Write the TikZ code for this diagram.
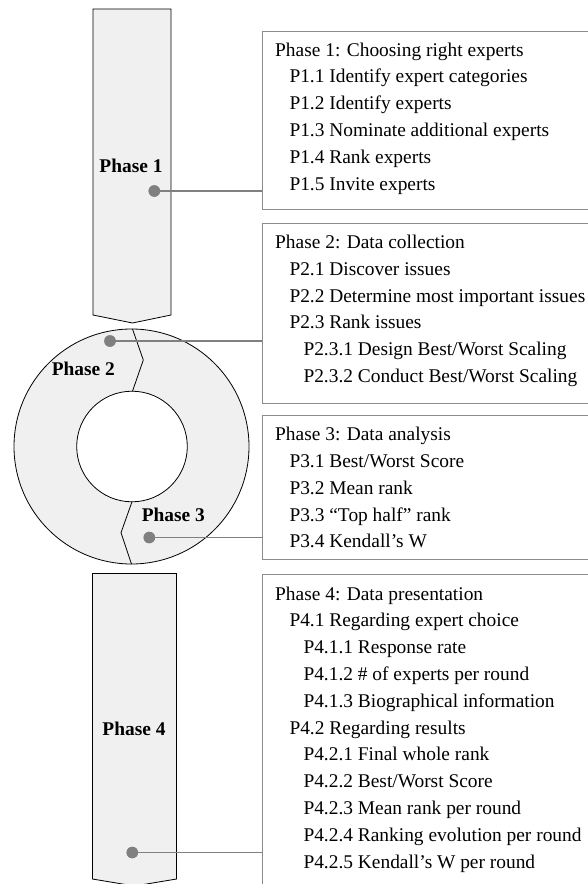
\documentclass[tikz,border=0pt]{standalone}
\usepackage{fontspec}
\setmainfont{Liberation Serif}
\begin{document}
\begin{tikzpicture}[x=1pt,y=-1pt,
  phaseshape/.style={draw=black, line width=0.8pt, fill=shapegray},
  phaselabel/.style={font=\fontsize{19.4}{22}\selectfont\bfseries, inner sep=0pt},
  dotnode/.style={circle, fill=linegray, inner sep=0pt, minimum size=11.5pt},
  conn/.style={draw=linegray, line width=1.6pt},
  infobox/.style={draw=boxgray, line width=1pt, anchor=north west, minimum width=340pt, inner sep=0pt},
  infotext/.style={anchor=base west, inner sep=0pt, font=\fontsize{19.4}{26.8}\selectfont}
]
\definecolor{shapegray}{RGB}{240,240,240}
\definecolor{linegray}{RGB}{128,128,128}
\definecolor{boxgray}{RGB}{140,140,140}
\newcommand{\lvA}{\hspace*{14.3pt}}
\newcommand{\lvB}{\hspace*{28.3pt}}
\useasboundingbox (0,0) rectangle (588,884);
\clip (0,0) rectangle (588,884);

% Phase 1 column
\draw[phaseshape] (93,9) -- (171,9) -- (171,315) -- (132.5,323) -- (93,315) -- cycle;
% Ring (phases 2 and 3)
\fill[shapegray, even odd rule] (131.5,446.5) circle (117.5) (132,446.5) circle (55.3);
\draw[line width=0.8pt] (131.5,446.5) circle (117.5);
\draw[line width=0.8pt] (132,446.5) circle (55.3);
\draw[line width=0.8pt] (132.5,329) -- (143.3,360) -- (132.5,391.2);
\draw[line width=0.8pt] (132,501.8) -- (121,532.7) -- (131.5,564);
% Phase 4 column
\draw[phaseshape] (92.5,573.5) -- (176.5,573.5) -- (176.5,879) -- (134.5,886) -- (92.5,879) -- cycle;

% Phase labels
\node[phaselabel] (l1) at (131,165.5) {Phase 1};
\node[phaselabel] (l2) at (83.3,369.3) {Phase 2};
\node[phaselabel] (l3) at (173.3,515) {Phase 3};
\node[phaselabel] (l4) at (134,729) {Phase 4};

% Boxes
\node[infobox, minimum height=178pt] (b1) at (262.3,31) {};
\node[infobox, minimum height=180.3pt] (b2) at (262.3,223) {};
\node[infobox, minimum height=144.3pt] (b3) at (262.3,415) {};
\node[infobox, minimum height=400pt] (b4) at (262.3,574) {};

% Box texts
\node[infotext] (t1) at (275,56) {\parbox[t]{320pt}{\raggedright
Phase 1: Choosing right experts\\
\lvA P1.1 Identify expert categories\\
\lvA P1.2 Identify experts\\
\lvA P1.3 Nominate additional experts\\
\lvA P1.4 Rank experts\\
\lvA P1.5 Invite experts}};
\node[infotext] (t2) at (275,248.5) {\parbox[t]{320pt}{\raggedright
Phase 2: Data collection\\
\lvA P2.1 Discover issues\\
\lvA P2.2 Determine most important issues\\
\lvA P2.3 Rank issues\\
\lvB P2.3.1 Design Best/Worst Scaling\\
\lvB P2.3.2 Conduct Best/Worst Scaling}};
\node[infotext] (t3) at (275,440.7) {\parbox[t]{320pt}{\raggedright
Phase 3: Data analysis\\
\lvA P3.1 Best/Worst Score\\
\lvA P3.2 Mean rank\\
\lvA P3.3 “Top half” rank\\
\lvA P3.4 Kendall’s W}};
\node[infotext] (t4) at (275,600) {\parbox[t]{320pt}{\raggedright
Phase 4: Data presentation\\
\lvA P4.1 Regarding expert choice\\
\lvB P4.1.1 Response rate\\
\lvB P4.1.2 \# of experts per round\\
\lvB P4.1.3 Biographical information\\
\lvA P4.2 Regarding results\\
\lvB P4.2.1 Final whole rank\\
\lvB P4.2.2 Best/Worst Score\\
\lvB P4.2.3 Mean rank per round\\
\lvB P4.2.4 Ranking evolution per round\\
\lvB P4.2.5 Kendall’s W per round}};

% Dots and connectors
\node[dotnode] (d1) at (154.3,191) {};
\node[dotnode] (d2) at (110,341) {};
\node[dotnode] (d3) at (149.3,537.5) {};
\node[dotnode] (d4) at (132.3,852.5) {};
\draw[conn] (d1.center) -- (d1.center -| b1.west);
\draw[conn] (d2.center) -- (d2.center -| b2.west);
\draw[conn] (d3.center) -- (d3.center -| b3.west);
\draw[conn] (d4.center) -- (d4.center -| b4.west);
\node[dotnode] at (d1) {};
\node[dotnode] at (d2) {};
\node[dotnode] at (d3) {};
\node[dotnode] at (d4) {};
\end{tikzpicture}
\end{document}
